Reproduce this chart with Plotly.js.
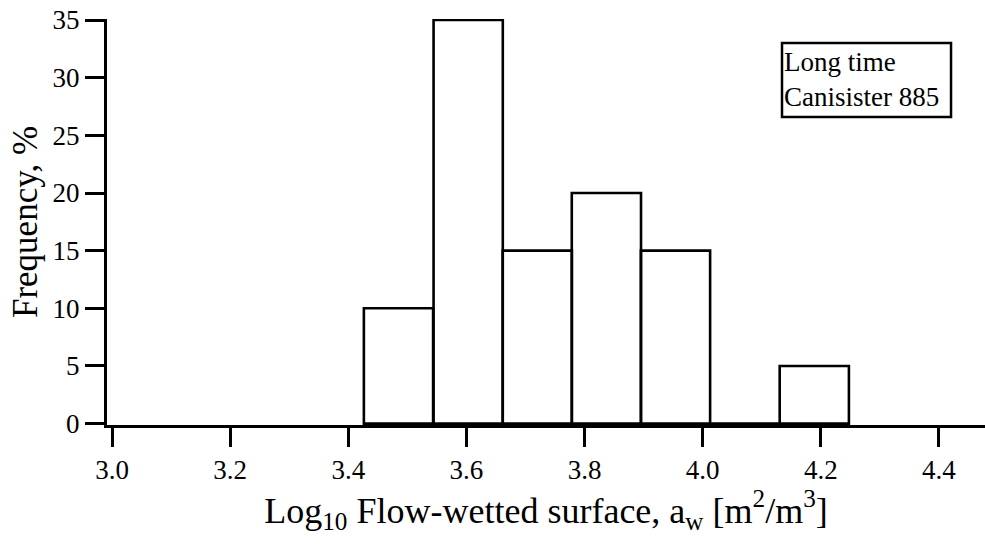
<!DOCTYPE html>
<html>
<head>
<meta charset="utf-8">
<script src="https://cdn.plot.ly/plotly-3.0.1.min.js"></script>
<style>
  html, body { margin: 0; padding: 0; background: #fff; }
  #chart { width: 985px; height: 545px; }
</style>
</head>
<body>
<div id="chart"></div>
<script>
// Histogram of log10 flow-wetted surface (bin centers) and frequency (%)
const binCenters = [3.485, 3.603, 3.720, 3.837, 3.954, 4.071, 4.189];
const binWidth = 0.1172;
const frequency = [10, 35, 15, 20, 15, 0, 5];
const xTickVals = [3.0, 3.2, 3.4, 3.6, 3.8, 4.0, 4.2, 4.4];
const xTickText = ["3.0", "3.2", "3.4", "3.6", "3.8", "4.0", "4.2", "4.4"];
const yTickVals = [0, 5, 10, 15, 20, 25, 30, 35];
const legendLines = ["Long time", "Canisister 885"];

const FONT = "Liberation Serif, Times New Roman, serif";

const trace = {
  type: "bar",
  x: binCenters,
  y: frequency,
  width: binCenters.map(() => binWidth),
  marker: { color: "rgba(255,255,255,0)", line: { color: "#000", width: 2.6 } },
  hoverinfo: "x+y",
  showlegend: false
};

const layout = {
  width: 985,
  height: 545,
  margin: { l: 107, r: 0, t: 19, b: 120 },
  paper_bgcolor: "#fff",
  plot_bgcolor: "#fff",
  font: { family: FONT, color: "#000", size: 27 },
  showlegend: false,
  bargap: 0,
  xaxis: {
    range: [2.9915, 4.478],
    tickmode: "array",
    tickvals: xTickVals,
    ticktext: xTickText,
    ticks: "outside",
    ticklen: 19,
    tickwidth: 3,
    tickcolor: "#000",
    showline: true,
    linecolor: "#000",
    linewidth: 3,
    showgrid: false,
    zeroline: false,
    tickfont: { family: FONT, size: 27, color: "#000" },
    title: {
      text: "Log<sub>10</sub> Flow-wetted surface, a<sub>w</sub> [m<sup>2</sup>/m<sup>3</sup>]",
      font: { family: FONT, size: 36, color: "#000" },
      standoff: 9
    }
  },
  yaxis: {
    range: [-0.12, 35.09],
    tickmode: "array",
    tickvals: yTickVals,
    ticks: "outside",
    ticklen: 19,
    tickwidth: 3,
    tickcolor: "#000",
    showline: true,
    linecolor: "#000",
    linewidth: 3,
    showgrid: false,
    zeroline: false,
    tickfont: { family: FONT, size: 27, color: "#000" },
    title: {
      text: "Frequency, %",
      font: { family: FONT, size: 35, color: "#000" },
      standoff: 5
    }
  },
  shapes: [{
    type: "rect", xref: "paper", yref: "paper",
    x0: 0.7688, x1: 0.9613, y0: 0.7586, y1: 0.9409,
    line: { color: "#000", width: 2.5 }, fillcolor: "rgba(0,0,0,0)"
  }],
  annotations: [
    { xref: "paper", yref: "paper", x: 0.7705, y: 0.8498, xanchor: "left", yanchor: "middle",
      align: "left", borderpad: 0,
      text: legendLines.join("<br>"), showarrow: false,
      font: { family: FONT, size: 27, color: "#000" } }
  ]
};

Plotly.newPlot("chart", [trace], layout, { displayModeBar: false, staticPlot: true });
</script>
</body>
</html>
